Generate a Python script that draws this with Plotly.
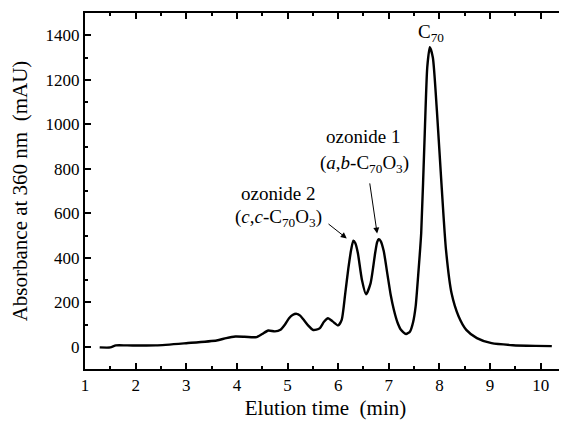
import plotly.graph_objects as go

time_min = [1.29, 1.5, 1.61, 1.83, 2.4, 3.0, 3.6, 3.79, 3.97, 4.15, 4.32, 4.39, 4.5, 4.62, 4.75,
            4.86, 4.95, 5.03, 5.1, 5.18, 5.25, 5.32, 5.41, 5.5, 5.57, 5.64, 5.72, 5.8, 5.89, 6.0,
            6.07, 6.14, 6.2, 6.26, 6.30, 6.34, 6.39, 6.47, 6.55, 6.64, 6.73, 6.77, 6.80, 6.84,
            6.90, 6.97, 7.04, 7.10, 7.17, 7.24, 7.34, 7.42, 7.48, 7.53, 7.58, 7.64, 7.71, 7.76,
            7.81, 7.87, 7.95, 8.04, 8.13, 8.24, 8.38, 8.53, 8.74, 9.03, 9.45, 9.9, 10.22]
absorbance = [-3, -3, 6, 6, 6, 16, 28, 39, 46, 45, 43, 43, 57, 73, 69,
              76, 100, 128, 143, 148, 140, 121, 95, 76, 77, 84, 112, 128, 114, 96,
              121, 240, 350, 440, 477, 465, 420, 300, 236, 285, 420, 470, 483, 475,
              430, 330, 230, 166, 110, 76, 57, 69, 110, 180, 320, 510, 958, 1257,
              1346, 1300, 1061, 734, 435, 240, 136, 76, 39, 16, 7, 4, 3]

x_ticks = list(range(1, 11))
y_ticks = list(range(0, 1401, 200))

serif = "Liberation Serif, Times New Roman, Times, serif"

fig = go.Figure()
fig.add_trace(go.Scatter(x=time_min, y=absorbance, mode="lines",
                         line=dict(color="black", width=2.4, shape="spline", smoothing=0.6),
                         hoverinfo="skip", showlegend=False))

axis_common = dict(showline=True, linecolor="black", linewidth=2, mirror="allticks",
                   ticks="inside", ticklen=6, tickwidth=1.5, tickcolor="black",
                   showgrid=False, zeroline=False, automargin=False,
                   tickfont=dict(family=serif, size=17, color="black"))

title_font = dict(family=serif, size=21, color="black")

fig.update_xaxes(range=[1, 10.5], tickvals=x_ticks,
                 minor=dict(ticks="inside", ticklen=3, tickwidth=1.5, tickcolor="black", dtick=0.5,
                            tick0=1, showgrid=False),
                 title=dict(text="Elution time\u00a0\u00a0(min)", font=title_font, standoff=6),
                 **axis_common)
fig.update_yaxes(range=[-100, 1500], tickvals=y_ticks,
                 minor=dict(ticks="inside", ticklen=3, tickwidth=1.5, tickcolor="black", dtick=100,
                            tick0=0, showgrid=False),
                 title=dict(text="Absorbance at 360 nm\u00a0\u00a0(mAU)", font=title_font, standoff=14),
                 **axis_common)

ann_font = dict(family=serif, size=19, color="black")
fig.add_annotation(x=7.83, y=1410, text="C<sub>70</sub>", showarrow=False, font=ann_font,
                   xanchor="center", yanchor="middle")
fig.add_annotation(x=6.50, y=943, text="ozonide 1", showarrow=False, font=ann_font,
                   xanchor="center", yanchor="middle")
fig.add_annotation(x=6.53, y=823, text="(<i>a</i>,<i>b</i>-C<sub>70</sub>O<sub>3</sub>)",
                   showarrow=False, font=ann_font, xanchor="center", yanchor="middle")
fig.add_annotation(x=4.82, y=689, text="ozonide 2", showarrow=False, font=ann_font,
                   xanchor="center", yanchor="middle")
fig.add_annotation(x=4.82, y=577, text="(<i>c</i>,<i>c</i>-C<sub>70</sub>O<sub>3</sub>)",
                   showarrow=False, font=ann_font, xanchor="center", yanchor="middle")

# arrows
fig.add_annotation(x=6.17, y=487, ax=5.78, ay=557, xref="x", yref="y", axref="x", ayref="y",
                   text="", showarrow=True, arrowhead=2, arrowsize=1.2, arrowwidth=1, arrowcolor="black")
fig.add_annotation(x=6.77, y=509, ax=6.62, ay=741, xref="x", yref="y", axref="x", ayref="y",
                   text="", showarrow=True, arrowhead=2, arrowsize=1.2, arrowwidth=1, arrowcolor="black")

# page body adds an 8 px offset; size/margins compensate so the plot area lands where the reference has it
fig.update_layout(width=559, height=416, margin=dict(l=77, r=1, t=5, b=55),
                  paper_bgcolor="white", plot_bgcolor="white")

fig.write_html("out.html")
